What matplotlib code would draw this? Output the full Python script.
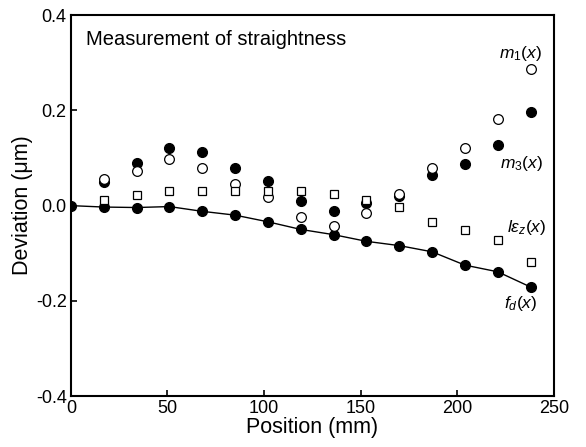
import matplotlib
matplotlib.use("Agg")
import matplotlib.pyplot as plt

plt.rcParams["font.family"] = ["Liberation Sans", "DejaVu Sans"]
plt.rcParams["axes.unicode_minus"] = False
plt.rcParams["mathtext.fontset"] = "custom"
plt.rcParams["mathtext.rm"] = "Liberation Sans"
plt.rcParams["mathtext.it"] = "Liberation Sans:italic"

# positions (mm)
pos = [0, 17, 34, 51, 68, 85, 102, 119, 136, 153, 170, 187, 204, 221, 238]
pos_m = pos[1:]

# deviations (um)
f_d = [0.0, -0.003, -0.004, -0.002, -0.012, -0.020, -0.034, -0.050,
       -0.061, -0.075, -0.084, -0.097, -0.125, -0.139, -0.171]
m_3 = [0.050, 0.090, 0.120, 0.113, 0.080, 0.052, 0.009, -0.012,
       0.006, 0.020, 0.065, 0.087, 0.127, 0.197]
m_1 = [0.055, 0.073, 0.097, 0.080, 0.046, 0.018, -0.024, -0.042,
       -0.016, 0.024, 0.080, 0.122, 0.181, 0.288]
l_ez = [0.012, 0.022, 0.031, 0.031, 0.031, 0.030, 0.030, 0.024,
        0.012, -0.003, -0.034, -0.051, -0.072, -0.118]

fig = plt.figure(figsize=(5.86, 4.47), dpi=100)
ax = fig.add_axes([0.121, 0.114, 0.824, 0.852])

ax.plot(pos, f_d, "-o", color="black", lw=1.0, ms=7, zorder=3)
ax.plot(pos_m, m_3, "o", color="black", ms=7, zorder=2)
ax.plot(pos_m, m_1, "o", mfc="white", mec="black", mew=0.9, ms=7, zorder=4)
ax.plot(pos_m, l_ez, "s", mfc="white", mec="black", mew=0.9, ms=6.3, zorder=4)

ax.set_xlim(0, 250)
ax.set_ylim(-0.4, 0.4)
ax.set_xticks([0, 50, 100, 150, 200, 250])
ax.set_yticks([-0.4, -0.2, 0.0, 0.2, 0.4])
ax.set_yticklabels(["-0.4", "-0.2", "0.0", "0.2", "0.4"])
ax.tick_params(direction="in", length=4, width=1.2, labelsize=13, pad=3)
for s in ax.spines.values():
    s.set_linewidth(1.5)

ax.set_xlabel("Position (mm)", fontsize=15.5, labelpad=0)
ax.set_ylabel("Deviation (\u03bcm)", fontsize=15.5, labelpad=2)

ax.text(8, 0.348, "Measurement of straightness", fontsize=14.5, va="center")
ax.text(233, 0.32, r"$m_1(x)$", fontsize=12.5, ha="center", va="center")
ax.text(233.5, 0.089, r"$m_3(x)$", fontsize=12.5, ha="center", va="center")
ax.text(236, -0.047, r"$l\varepsilon_z(x)$", fontsize=12.5, ha="center", va="center")
ax.text(233, -0.205, r"$f_d(x)$", fontsize=12.5, ha="center", va="center")

fig.savefig("out.png", dpi=100)
